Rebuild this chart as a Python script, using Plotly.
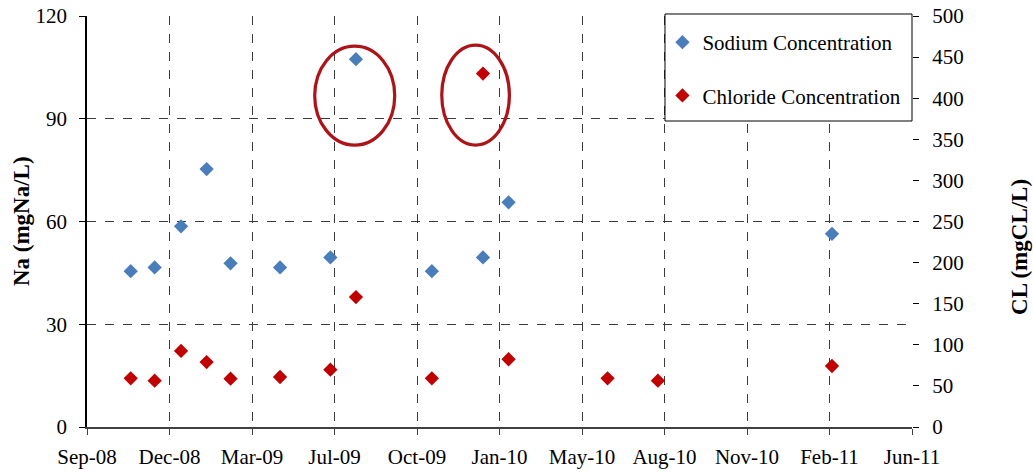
import plotly.graph_objects as go

# sampling dates and values
fechas_na = ["2008-11-01", "2008-11-30", "2009-01-01", "2009-02-01", "2009-03-02",
             "2009-05-01", "2009-07-01", "2009-08-01", "2009-11-01", "2010-01-02",
             "2010-02-02", "2011-03-01"]
sodio = [45.5, 46.6, 58.6, 75.3, 47.8, 46.6, 49.5, 107.4, 45.5, 49.5, 65.6, 56.4]

fechas_cl = ["2008-11-01", "2008-11-30", "2009-01-01", "2009-02-01", "2009-03-02",
             "2009-05-01", "2009-07-01", "2009-08-01", "2009-11-01", "2010-01-02",
             "2010-02-02", "2010-06-02", "2010-08-02", "2011-03-01"]
cloruro = [59.2, 56.3, 92.5, 79, 58.8, 60.8, 69.7, 158, 59.2, 430, 82.4, 59.2, 56.3, 74.2]

# circled outliers (x range, Na range)
circulos = [("2009-06-12", "2009-09-17", 82.3, 111.2),
            ("2009-11-13", "2010-02-03", 82.3, 111.5)]

fuente = "Liberation Serif"
azul = "#4A7EBB"
rojo = "#C00000"

fig = go.Figure()
fig.add_trace(go.Scatter(x=fechas_na, y=sodio, mode="markers", name="Sodium Concentration",
                         legendgroup="na",
                         marker=dict(symbol="diamond", size=11, color=azul)))
fig.add_trace(go.Scatter(x=fechas_cl, y=cloruro, mode="markers", name="Chloride Concentration",
                         legendgroup="cl", yaxis="y2",
                         marker=dict(symbol="diamond", size=11, color=rojo)))

for x0, x1, y0, y1 in circulos:
    fig.add_shape(type="circle", xref="x", yref="y", x0=x0, x1=x1, y0=y0, y1=y1,
                  line=dict(color="#AC1419", width=3.2))

# legend box
fig.add_shape(type="rect", xref="paper", yref="paper", x0=0.7006, x1=1.0, y0=0.7445, y1=1.0049,
              line=dict(color="black", width=1), fillcolor="white", layer="above")

fig.update_layout(
    width=1033, height=474,
    margin=dict(l=87, r=121, t=16, b=47, autoexpand=False),
    plot_bgcolor="white", paper_bgcolor="white",
    font=dict(family=fuente, size=21, color="black"),
    showlegend=True,
    legend=dict(x=0.6975, y=0.871, xanchor="left", yanchor="middle",
                bgcolor="rgba(0,0,0,0)", borderwidth=0, tracegroupgap=23,
                font=dict(family=fuente, size=21, color="black"), itemwidth=30),
    xaxis=dict(type="date", range=["2008-09-09", "2011-06-06"],
               tick0="2008-09-09", dtick=100 * 86400000, tickformat="%b-%y",
               showgrid=True, gridcolor="#3a3a3a", griddash="dash", gridwidth=1,
               showline=True, linecolor="#404040", linewidth=1.5,
               ticks="outside", ticklen=6, tickcolor="#404040", ticklabelstandoff=4),
    yaxis=dict(range=[0, 120], dtick=30,
               showgrid=True, gridcolor="#3a3a3a", griddash="dash", gridwidth=1,
               showline=True, linecolor="black", linewidth=1.5, zeroline=False,
               ticks="outside", ticklen=6, tickcolor="black", ticklabelstandoff=8),
    yaxis2=dict(range=[0, 500], dtick=50, overlaying="y", side="right",
                showgrid=False, zeroline=False, showline=False,
                ticks="outside", ticklen=6, tickcolor="black", ticklabelstandoff=9),
)

fig.add_annotation(text="<b>Na (mgNa/L)</b>", xref="paper", yref="paper",
                   x=-0.08, y=0.501, xanchor="center", yanchor="middle",
                   textangle=-90, showarrow=False,
                   font=dict(family=fuente, size=23, color="black"))
fig.add_annotation(text="<b>CL (mgCL/L)</b>", xref="paper", yref="paper",
                   x=1.1309, y=0.438, xanchor="center", yanchor="middle",
                   textangle=-90, showarrow=False,
                   font=dict(family=fuente, size=23, color="black"))

fig.write_html("out.html", config={"displayModeBar": False},
               post_script="document.body.style.margin='0';")
